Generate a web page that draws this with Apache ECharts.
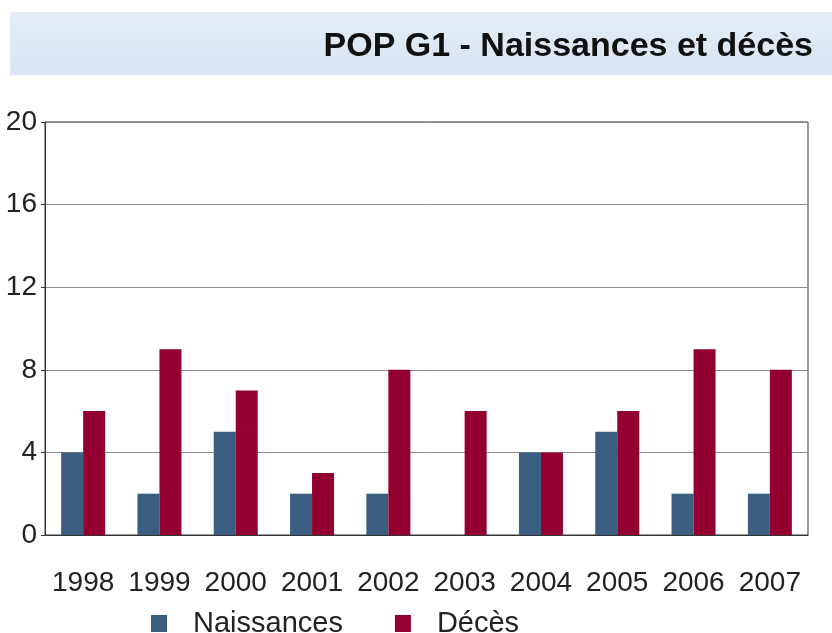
<!DOCTYPE html>
<html>
<head>
<meta charset="utf-8">
<script src="https://cdn.jsdelivr.net/npm/echarts@6/dist/echarts.min.js"></script>
<style>
  html, body { margin: 0; padding: 0; background: #fff; }
  #chart { width: 832px; height: 633px; }
</style>
</head>
<body>
<div id="chart"></div>
<script>
// données du graphique
const years = ['1998', '1999', '2000', '2001', '2002', '2003', '2004', '2005', '2006', '2007']
const naissances = [4, 2, 5, 2, 2, 0, 4, 5, 2, 2]
const deces = [6, 9, 7, 3, 8, 6, 4, 6, 9, 8]
const seriesNames = ['Naissances', 'Décès']
const titleText = 'POP G1 - Naissances et décès'

const font = '"Liberation Sans", Arial, sans-serif'
const chart = echarts.init(document.getElementById('chart'), null, { renderer: 'canvas' })

const option = {
  backgroundColor: '#fff',
  animation: false,
  textStyle: { fontFamily: font },
  graphic: [
    {
      type: 'rect',
      shape: { x: 10, y: 12, width: 822, height: 63 },
      style: {
        fill: new echarts.graphic.LinearGradient(0, 0, 0, 1, [
          { offset: 0, color: '#e4edf7' },
          { offset: 1, color: '#d9e5f2' }
        ])
      },
      z: -1
    }
  ],
  title: {
    text: titleText,
    right: 14,
    top: 25,
    textStyle: { fontFamily: font, fontSize: 34, fontWeight: 'bold', color: '#111' }
  },
  legend: {
    data: seriesNames,
    top: 604,
    left: 146,
    itemWidth: 16,
    itemHeight: 17,
    itemGap: 52,
    textStyle: { fontFamily: font, fontSize: 29, color: '#222', padding: [0, 0, 0, 21] },
    icon: 'rect'
  },
  grid: {
    left: 45,
    right: 24,
    top: 122,
    bottom: 98,
    show: true,
    borderColor: '#333',
    borderWidth: 1
  },
  xAxis: {
    type: 'category',
    data: years,
    axisLine: { lineStyle: { color: '#333' } },
    axisTick: { show: false },
    axisLabel: {
      interval: 0,
      fontSize: 28,
      color: '#222',
      margin: 48,
      fontFamily: font,
      verticalAlign: 'middle'
    }
  },
  yAxis: {
    type: 'value',
    min: 0,
    max: 20,
    interval: 4,
    axisLine: { show: true, lineStyle: { color: '#333' } },
    axisTick: { show: true, length: 4, lineStyle: { color: '#333' } },
    axisLabel: { fontSize: 28, color: '#222', margin: 8, fontFamily: font },
    splitLine: { lineStyle: { color: '#8a8a8a', width: 1 } }
  },
  series: [
    {
      name: seriesNames[0],
      type: 'bar',
      data: naissances,
      barWidth: 22,
      barGap: '0%',
      itemStyle: { color: '#3b5d7f' }
    },
    {
      name: seriesNames[1],
      type: 'bar',
      data: deces,
      barWidth: 22,
      barGap: '0%',
      itemStyle: { color: '#93002f' }
    }
  ]
}

chart.setOption(option)
</script>
</body>
</html>
